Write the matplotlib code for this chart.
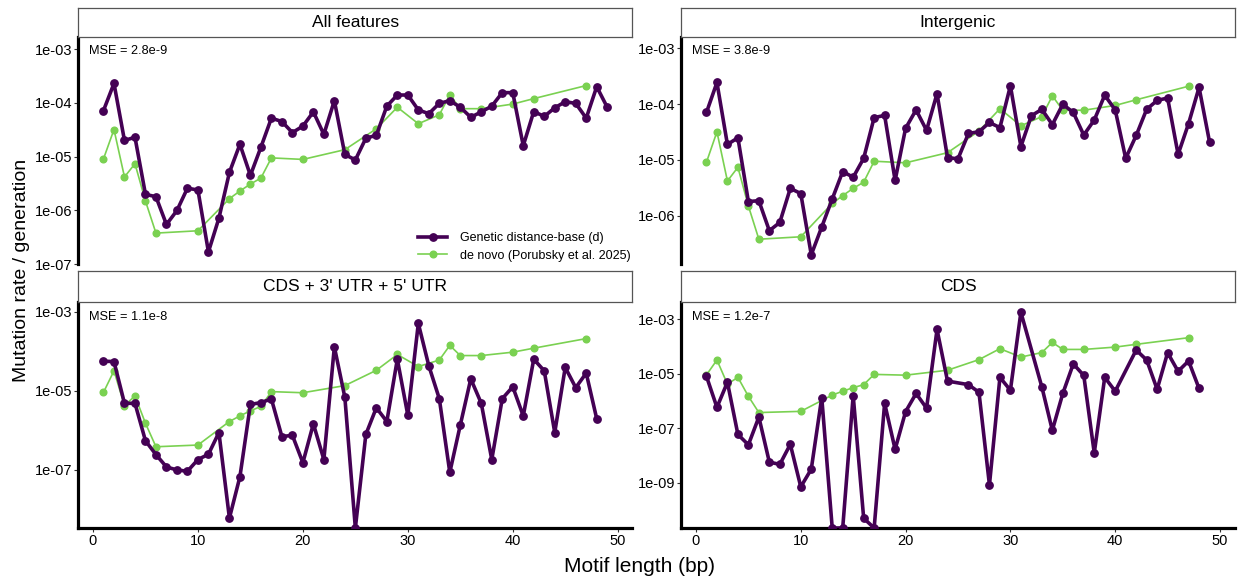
import numpy as np
import matplotlib
matplotlib.use("Agg")
import matplotlib.pyplot as plt

plt.rcParams['font.family'] = ['Liberation Sans', 'DejaVu Sans']

PURPLE = '#440154'
GREEN = '#7AD151'

# de novo rates (Porubsky et al. 2025), same in every panel
denovo_len = [1, 2, 3, 4, 5, 6, 10, 13, 14, 15, 16, 17, 20, 24, 27, 29, 31, 33, 34, 35, 37, 40, 42, 47]
denovo_rate = [9.1e-6, 3.2e-5, 4.2e-6, 7.4e-6, 1.5e-6, 3.8e-7, 4.2e-7, 1.66e-6, 2.3e-6, 3.1e-6,
               4.0e-6, 9.5e-6, 8.9e-6, 1.35e-5, 3.3e-5, 8.3e-5, 4.1e-5, 6.0e-5, 1.41e-4, 7.8e-5,
               7.8e-5, 9.5e-5, 1.2e-4, 2.1e-4]

# genetic distance-based rates per feature class (0 = no estimate, drawn at the panel floor)
all_len = list(range(1, 50))
all_rate = [7.2e-5, 2.3e-4, 2.0e-5, 2.3e-5, 2.0e-6, 1.8e-6, 5.5e-7, 1.0e-6, 2.6e-6, 2.4e-6,
            1.7e-7, 7.2e-7, 5.1e-6, 1.7e-5, 4.5e-6, 1.5e-5, 5.2e-5, 4.5e-5, 2.8e-5, 3.7e-5,
            6.8e-5, 2.6e-5, 1.1e-4, 1.1e-5, 8.7e-6, 2.2e-5, 2.5e-5, 8.7e-5, 1.4e-4, 1.4e-4,
            7.4e-5, 6.3e-5, 9.8e-5, 1.1e-4, 8.3e-5, 5.4e-5, 6.8e-5, 8.7e-5, 1.55e-4, 1.55e-4,
            1.6e-5, 6.9e-5, 5.6e-5, 8.1e-5, 1.05e-4, 9.8e-5, 5.2e-5, 2.0e-4, 8.3e-5]

inter_len = list(range(1, 50))
inter_rate = [7.1e-5, 2.45e-4, 1.9e-5, 2.5e-5, 1.8e-6, 1.86e-6, 5.4e-7, 7.6e-7, 3.1e-6, 2.5e-6,
              2.0e-7, 6.3e-7, 2.0e-6, 6.2e-6, 4.9e-6, 1.07e-5, 5.75e-5, 6.3e-5, 4.3e-6, 3.7e-5,
              7.9e-5, 3.4e-5, 1.55e-4, 1.1e-5, 1.05e-5, 3.0e-5, 3.2e-5, 4.7e-5, 3.8e-5, 2.14e-4,
              1.74e-5, 6.2e-5, 8.1e-5, 4.3e-5, 1.0e-4, 7.1e-5, 2.8e-5, 5.2e-5, 1.45e-4, 7.9e-5,
              1.07e-5, 2.75e-5, 8.1e-5, 1.17e-4, 1.29e-4, 1.26e-5, 4.5e-5, 2.0e-4, 2.1e-5]

utr_len = list(range(1, 49))
utr_rate = [5.6e-5, 5.5e-5, 4.8e-6, 4.8e-6, 5.4e-7, 2.4e-7, 1.17e-7, 9.8e-8, 9.1e-8, 1.8e-7,
            2.45e-7, 8.7e-7, 5.9e-9, 6.6e-8, 4.5e-6, 5.0e-6, 6.2e-6, 6.9e-7, 7.4e-7, 1.5e-7,
            1.45e-6, 1.8e-7, 1.3e-4, 6.8e-6, 0, 7.8e-7, 3.7e-6, 1.66e-6, 6.3e-5, 2.4e-6,
            5.1e-4, 4.3e-5, 6.3e-6, 8.5e-8, 1.35e-6, 2.0e-5, 4.8e-6, 1.8e-7, 6.3e-6, 1.26e-5,
            2.3e-6, 6.3e-5, 3.2e-5, 8.7e-7, 3.9e-5, 1.2e-5, 2.8e-5, 1.95e-6]

cds_len = [1, 2, 3, 4, 5, 6, 7, 8, 9, 10, 11, 12, 13, 14, 15, 16, 17, 18, 19, 20, 21, 22, 23, 24,
           26, 27, 28, 29, 30, 31, 33, 34, 35, 36, 37, 38, 39, 40, 42, 43, 44, 45, 46, 47, 48]
cds_rate = [8.1e-6, 5.9e-7, 4.9e-6, 6.0e-8, 2.5e-8, 2.6e-7, 5.8e-9, 4.8e-9, 2.6e-8, 7.2e-10,
            3.2e-9, 1.35e-6, 0, 0, 1.6e-6, 5.1e-11, 0, 8.3e-7, 1.7e-8, 4.1e-7,
            1.9e-6, 5.5e-7, 4.2e-4, 5.4e-6, 4.0e-6, 2.1e-6, 8.5e-10, 7.4e-6, 2.5e-6, 1.8e-3,
            3.3e-6, 8.5e-8, 1.9e-6, 2.3e-5, 8.7e-6, 1.26e-8, 7.4e-6, 2.3e-6, 7.4e-5, 3.2e-5,
            2.7e-6, 5.9e-5, 1.23e-5, 2.95e-5, 2.9e-6]

titles = ["All features", "Intergenic", "CDS + 3' UTR + 5' UTR", "CDS"]
mse_labels = ["MSE = 2.8e-9", "MSE = 3.8e-9", "MSE = 1.1e-8", "MSE = 1.2e-7"]
series = [(all_len, all_rate), (inter_len, inter_rate), (utr_len, utr_rate), (cds_len, cds_rate)]
ylims = [(10**-7.0, 10**-2.77), (10**-6.87, 10**-2.79), (10**-8.48, 10**-2.75), (10**-10.65, 10**-2.37)]
yticks = [[1e-3, 1e-4, 1e-5, 1e-6, 1e-7], [1e-3, 1e-4, 1e-5, 1e-6],
          [1e-3, 1e-5, 1e-7], [1e-3, 1e-5, 1e-7, 1e-9]]

W, H = 1238, 584
fig = plt.figure(figsize=(W / 100, H / 100), dpi=100)

# panel boxes in pixels: left, right, top, bottom
boxes = [(78.3, 632.4, 36.7, 264.3), (681.3, 1234.7, 36.7, 264.3),
         (78.3, 632.4, 302, 528), (681.3, 1234.7, 302, 528)]
strips = [(8, 36.7), (8, 36.7), (271, 302), (271, 302)]

for i in range(4):
    l, r, t, b = boxes[i]
    ax = fig.add_axes([l / W, 1 - b / H, (r - l) / W, (b - t) / H])
    lo, hi = ylims[i]
    x, y = series[i]
    y = np.array(y, dtype=float)
    y = np.where(y <= 0, lo, y)  # like ggplot's -Inf squish to the panel edge
    ax.plot(x, y, color=PURPLE, lw=2.6, marker='o', ms=5.3, zorder=3,
            label='Genetic distance-base (d)')
    ax.plot(denovo_len, denovo_rate, color=GREEN, lw=1.2, marker='o', ms=4.8, zorder=2,
            label='de novo (Porubsky et al. 2025)')
    ax.set_yscale('log')
    ax.set_ylim(lo, hi)
    ax.set_xlim(-1.4, 51.4)
    ax.set_yticks(yticks[i])
    ax.set_yticklabels(['%.0e' % v for v in yticks[i]])
    ax.yaxis.set_minor_locator(matplotlib.ticker.NullLocator())
    for s in ['top', 'right']:
        ax.spines[s].set_visible(False)
    ax.spines['left'].set_linewidth(2.3)
    ax.tick_params(axis='both', length=3, width=0.8, color='#333333', labelsize=10.5, pad=1.5)
    if i < 2:
        ax.spines['bottom'].set_visible(False)
        ax.set_xticks([])
    else:
        ax.spines['bottom'].set_linewidth(2.3)
        ax.set_xticks([0, 10, 20, 30, 40, 50])
    ax.annotate(mse_labels[i], xy=(-0.4, 1), xycoords=('data', 'axes fraction'),
                xytext=(0, -10.5), textcoords='offset points', ha='left', va='center', fontsize=9.2)

    if i == 0:
        ax.legend(loc='lower left', bbox_to_anchor=(0.613, 0.012), frameon=False, fontsize=9.0,
                  handlelength=2.35, handletextpad=1.0, labelspacing=0.45, borderpad=0,
                  borderaxespad=0)

    st, sb = strips[i]
    sax = fig.add_axes([l / W, 1 - sb / H, (r - l) / W, (sb - st) / H])
    sax.set_xticks([])
    sax.set_yticks([])
    for s in sax.spines.values():
        s.set_color('#555555')
        s.set_linewidth(0.9)
    sax.text(0.5, 0.5, titles[i], ha='center', va='center', fontsize=12.5, transform=sax.transAxes)

fig.text(22 / W, 1 - 270 / H, 'Mutation rate / generation', rotation=90, ha='center', va='center',
         fontsize=14)
fig.text(640 / W, 1 - 567 / H, 'Motif length (bp)', ha='center', va='center', fontsize=15)

plt.savefig('out.png', dpi=100)
